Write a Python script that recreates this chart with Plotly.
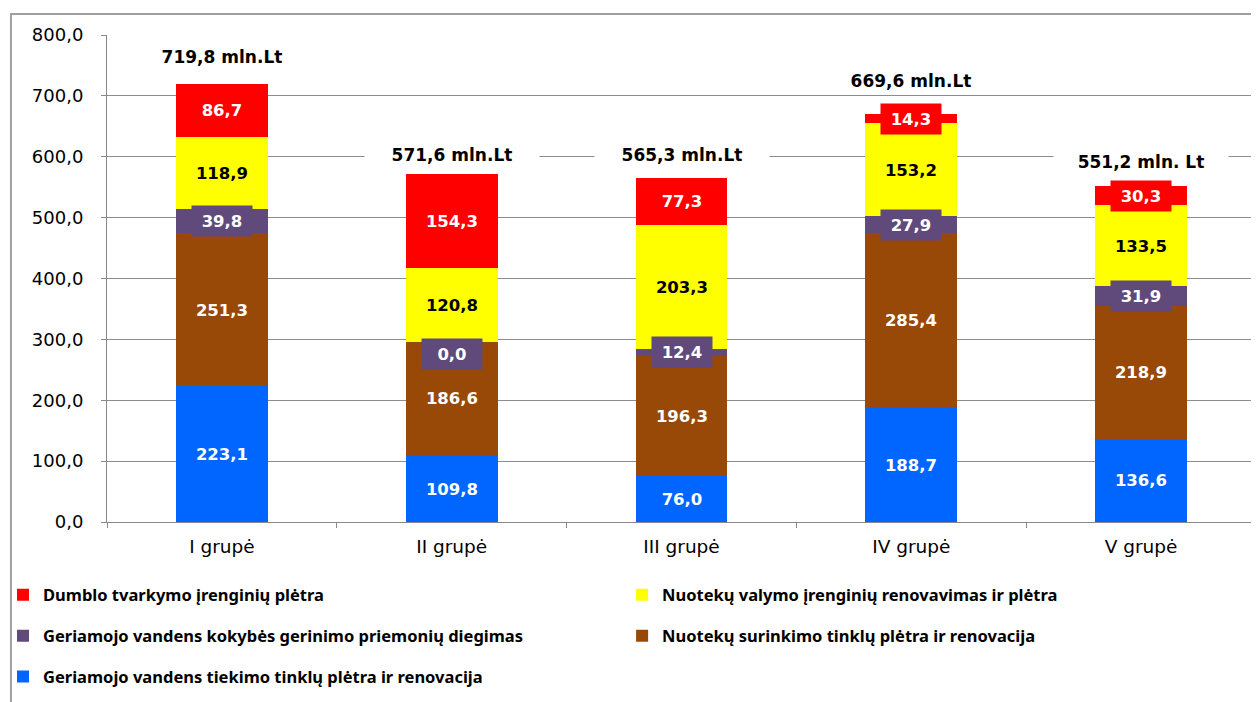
import plotly.graph_objects as go

# Duomenys (mln. Lt)
groups = ["I grupė", "II grupė", "III grupė", "IV grupė", "V grupė"]
water_supply = [223.1, 109.8, 76.0, 188.7, 136.6]
sewer_networks = [251.3, 186.6, 196.3, 285.4, 218.9]
water_quality = [39.8, 0.0, 12.4, 27.9, 31.9]
treatment_plants = [118.9, 120.8, 203.3, 153.2, 133.5]
sludge = [86.7, 154.3, 77.3, 14.3, 30.3]
totals = [719.8, 571.6, 565.3, 669.6, 551.2]
total_suffix = [" mln.Lt", " mln.Lt", " mln.Lt", " mln.Lt", " mln. Lt"]

# pixel offsets of the total labels above the bars
total_shift = [27, 19, 23, 33, 24]


def lt(v):
    return f"{v:.1f}".replace(".", ",")


# each series gets its own small legend so the 2-column layout can be placed freely
series = [
    ("Geriamojo vandens tiekimo tinklų plėtra ir renovacija", water_supply, "#0066FF", "white", "legend5"),
    ("Nuotekų surinkimo tinklų plėtra ir renovacija", sewer_networks, "#984807", "white", "legend4"),
    ("Geriamojo vandens kokybės gerinimo priemonių diegimas", water_quality, "#604A7B", "white", "legend3"),
    ("Nuotekų valymo įrenginių renovavimas ir plėtra", treatment_plants, "#FFFF00", "black", "legend2"),
    ("Dumblo tvarkymo įrenginių plėtra", sludge, "#FF0000", "white", "legend"),
]

fig = go.Figure()
annotations = []
base = [0.0] * len(groups)
for name, vals, color, tcol, leg in series:
    fig.add_trace(go.Bar(x=groups, y=vals, name=name, marker=dict(color=color, line_width=0),
                         width=0.4, legend=leg, showlegend=True))
    for i, v in enumerate(vals):
        annotations.append(dict(x=groups[i], y=base[i] + v / 2, text=lt(v), showarrow=False,
                                yshift=-12 if v == 0 else 0,
                                bgcolor=color, width=58, height=28,
                                font=dict(family="DejaVu Sans", size=16.5, color=tcol, weight="bold")))
        base[i] += v

for i, t in enumerate(totals):
    annotations.append(dict(x=groups[i], y=t, yshift=total_shift[i], text=lt(t) + total_suffix[i],
                            showarrow=False, bgcolor="white", width=172, height=22,
                            font=dict(family="DejaVu Sans", size=17, color="black", weight="bold")))

leg_font = dict(family="Noto Sans", size=16.5, color="black", weight="bold")


def leg(x, y):
    return dict(orientation="h", x=x, y=y, xanchor="left", yanchor="middle",
                font=leg_font, bgcolor="rgba(0,0,0,0)")


col1 = -0.0905
col2 = 0.4483
fig.update_layout(
    width=1259, height=702,
    margin=dict(l=99, r=11, t=27, b=188, autoexpand=False),
    paper_bgcolor="white", plot_bgcolor="white",
    barmode="stack",
    showlegend=True,
    separators=",.",
    annotations=annotations,
    legend=leg(col1, -0.1499),
    legend2=leg(col2, -0.1499),
    legend3=leg(col1, -0.234),
    legend4=leg(col2, -0.234),
    legend5=leg(col1, -0.318),
    shapes=[dict(type="rect", xref="paper", yref="paper", x0=-0.0836, x1=1.01, y0=-0.4, y1=1.0431,
                 line=dict(color="#A0A0A0", width=2), layer="below")],
    xaxis=dict(showgrid=False, showline=True, linecolor="#888888", ticks="outside", tickson="boundaries",
               ticklen=5, tickcolor="#888888", ticklabelstandoff=8,
               tickfont=dict(family="DejaVu Sans", size=18.5, color="black")),
    yaxis=dict(range=[0, 800], dtick=100, tickformat=".1f", showgrid=True, gridcolor="#8C8C8C",
               showline=True, linecolor="#888888", ticks="outside", ticklen=5, tickcolor="#888888",
               ticklabelstandoff=14, zeroline=False,
               tickfont=dict(family="DejaVu Sans", size=18, color="black")),
)

fig.write_html("out.html")
